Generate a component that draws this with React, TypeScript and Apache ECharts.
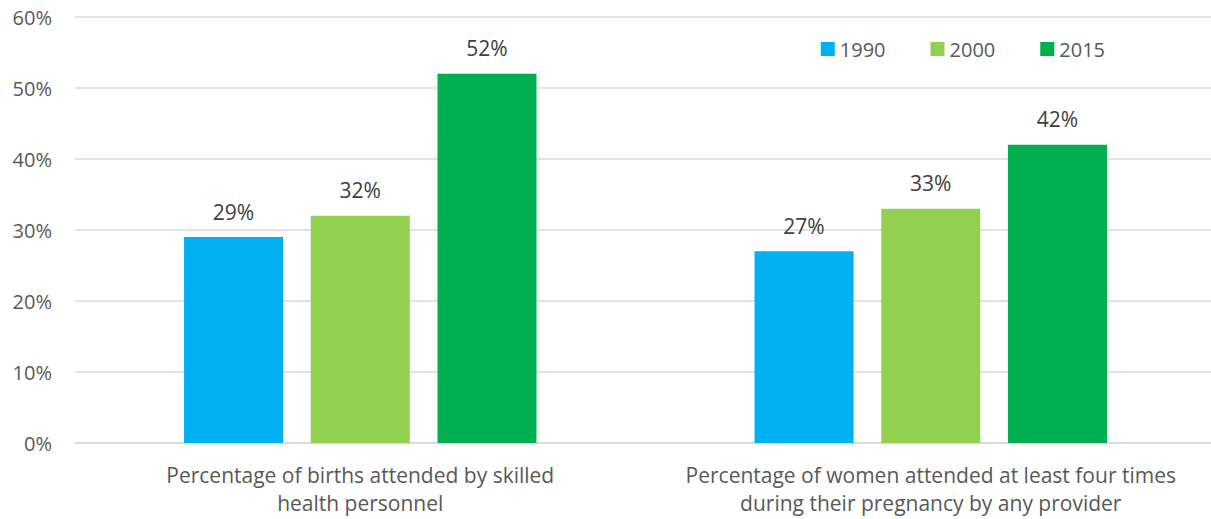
import React, { useEffect, useRef } from "react";
import * as echarts from "echarts";

const categories = [
  "Percentage of births attended by skilled\nhealth personnel",
  "Percentage of women attended at least four times\nduring their pregnancy by any provider",
];
const seriesNames = ["1990", "2000", "2015"];
const values1990 = [29, 27];
const values2000 = [32, 33];
const values2015 = [52, 42];
const colors = ["#00B0F0", "#92D050", "#00B050"];
const FONT = "'Open Sans', sans-serif";

export default function App() {
  const ref = useRef<HTMLDivElement>(null);
  useEffect(() => {
    if (!ref.current) return;
    const chart = echarts.init(ref.current, undefined, { renderer: "svg" });
    const data = [values1990, values2000, values2015];
    chart.setOption({
      animation: false,
      textStyle: { fontFamily: FONT },
      legend: {
        data: seriesNames,
        right: 106,
        top: 34,
        itemWidth: 14,
        itemHeight: 14,
        itemGap: 45,
        icon: "rect",
        textStyle: { fontSize: 20, color: "#595959", fontFamily: FONT },
      },
      grid: { left: 75, right: 0, top: 17, bottom: 76 },
      xAxis: {
        type: "category",
        data: categories,
        axisTick: { show: false },
        axisLine: { lineStyle: { color: "#D9D9D9", width: 1.5 } },
        axisLabel: {
          interval: 0,
          fontSize: 21,
          color: "#595959",
          lineHeight: 28,
          margin: 18,
          fontFamily: FONT,
        },
      },
      yAxis: {
        type: "value",
        min: 0,
        max: 60,
        interval: 10,
        axisLabel: {
          formatter: "{value}%",
          fontSize: 20,
          color: "#595959",
          margin: 23,
          fontFamily: FONT,
        },
        splitLine: { lineStyle: { color: "#D9D9D9", width: 1.5 } },
        axisLine: { show: false },
        axisTick: { show: false },
      },
      series: seriesNames.map((name, i) => ({
        name,
        type: "bar",
        data: data[i],
        barWidth: 99,
        barGap: "28%",
        itemStyle: { color: colors[i] },
        label: {
          show: true,
          position: "top",
          formatter: "{c}%",
          fontSize: 21,
          color: "#404040",
          distance: 15,
          fontFamily: FONT,
        },
      })),
    });
    return () => chart.dispose();
  }, []);
  return (
    <div style={{ position: "absolute", left: 0, top: 0, width: 1211, height: 519, overflow: "hidden" }}>
      <div ref={ref} style={{ width: 1216, height: 519 }} />
    </div>
  );
}
